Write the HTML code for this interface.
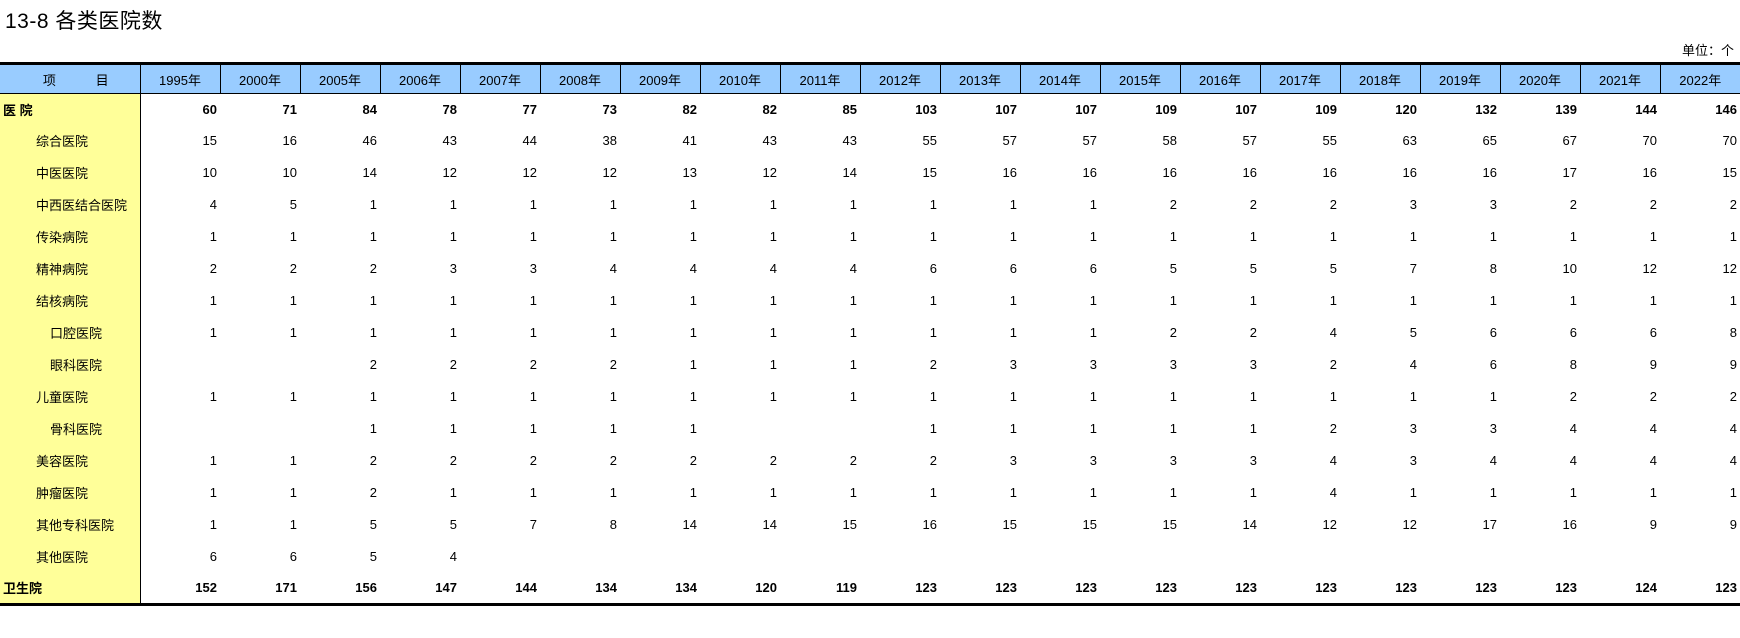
<!DOCTYPE html>
<html><head><meta charset="utf-8"><style>
body{margin:0;width:1740px;height:638px;background:#fff;font-family:"Liberation Sans","Noto Sans CJK SC",sans-serif;position:relative;overflow:hidden}
.t{position:absolute;left:5px;top:5px;font-size:21px;color:#000;letter-spacing:0.5px}
.u{position:absolute;right:6px;top:40px;font-size:13px}
table{position:absolute;left:0;top:62px;border-collapse:collapse;table-layout:fixed;width:1740px}
td{height:32px;padding:0 3px 0 0;font-size:13px;text-align:right;white-space:nowrap;overflow:hidden}
tr.h td{background:#99CCFF;border-left:1px solid #000;border-right:1px solid #000;text-align:center;height:28px;padding:0;border-top:3px solid #000;border-bottom:1px solid #000}
tr.h td.hh{padding-left:12px}
td.l{background:#FFFF99;text-align:left;border-right:1px solid #000;padding-left:36px}
td.s{padding-left:50px}
td.b0{padding-left:3px;font-weight:bold}
tr.b td{font-weight:bold}
tr.r1 td{height:30px}
tr.last td{border-bottom:3px solid #000;height:31px}
</style></head><body>
<div class="t">13-8 各类医院数</div>
<div class="u">单位：个</div>
<table>
<colgroup><col style="width:140px"><col span="20" style="width:80px"></colgroup>
<tr class="h"><td class="hh" style="border-left:none">项&nbsp;&nbsp;&nbsp;&nbsp;&nbsp;&nbsp;&nbsp;&nbsp;&nbsp;&nbsp;&nbsp;目</td><td>1995年</td><td>2000年</td><td>2005年</td><td>2006年</td><td>2007年</td><td>2008年</td><td>2009年</td><td>2010年</td><td>2011年</td><td>2012年</td><td>2013年</td><td>2014年</td><td>2015年</td><td>2016年</td><td>2017年</td><td>2018年</td><td>2019年</td><td>2020年</td><td>2021年</td><td style="border-right:none">2022年</td></tr>
<tr class="b r1"><td class="l b0">医 院</td><td>60</td><td>71</td><td>84</td><td>78</td><td>77</td><td>73</td><td>82</td><td>82</td><td>85</td><td>103</td><td>107</td><td>107</td><td>109</td><td>107</td><td>109</td><td>120</td><td>132</td><td>139</td><td>144</td><td>146</td></tr>
<tr><td class="l">综合医院</td><td>15</td><td>16</td><td>46</td><td>43</td><td>44</td><td>38</td><td>41</td><td>43</td><td>43</td><td>55</td><td>57</td><td>57</td><td>58</td><td>57</td><td>55</td><td>63</td><td>65</td><td>67</td><td>70</td><td>70</td></tr>
<tr><td class="l">中医医院</td><td>10</td><td>10</td><td>14</td><td>12</td><td>12</td><td>12</td><td>13</td><td>12</td><td>14</td><td>15</td><td>16</td><td>16</td><td>16</td><td>16</td><td>16</td><td>16</td><td>16</td><td>17</td><td>16</td><td>15</td></tr>
<tr><td class="l">中西医结合医院</td><td>4</td><td>5</td><td>1</td><td>1</td><td>1</td><td>1</td><td>1</td><td>1</td><td>1</td><td>1</td><td>1</td><td>1</td><td>2</td><td>2</td><td>2</td><td>3</td><td>3</td><td>2</td><td>2</td><td>2</td></tr>
<tr><td class="l">传染病院</td><td>1</td><td>1</td><td>1</td><td>1</td><td>1</td><td>1</td><td>1</td><td>1</td><td>1</td><td>1</td><td>1</td><td>1</td><td>1</td><td>1</td><td>1</td><td>1</td><td>1</td><td>1</td><td>1</td><td>1</td></tr>
<tr><td class="l">精神病院</td><td>2</td><td>2</td><td>2</td><td>3</td><td>3</td><td>4</td><td>4</td><td>4</td><td>4</td><td>6</td><td>6</td><td>6</td><td>5</td><td>5</td><td>5</td><td>7</td><td>8</td><td>10</td><td>12</td><td>12</td></tr>
<tr><td class="l">结核病院</td><td>1</td><td>1</td><td>1</td><td>1</td><td>1</td><td>1</td><td>1</td><td>1</td><td>1</td><td>1</td><td>1</td><td>1</td><td>1</td><td>1</td><td>1</td><td>1</td><td>1</td><td>1</td><td>1</td><td>1</td></tr>
<tr><td class="l s">口腔医院</td><td>1</td><td>1</td><td>1</td><td>1</td><td>1</td><td>1</td><td>1</td><td>1</td><td>1</td><td>1</td><td>1</td><td>1</td><td>2</td><td>2</td><td>4</td><td>5</td><td>6</td><td>6</td><td>6</td><td>8</td></tr>
<tr><td class="l s">眼科医院</td><td></td><td></td><td>2</td><td>2</td><td>2</td><td>2</td><td>1</td><td>1</td><td>1</td><td>2</td><td>3</td><td>3</td><td>3</td><td>3</td><td>2</td><td>4</td><td>6</td><td>8</td><td>9</td><td>9</td></tr>
<tr><td class="l">儿童医院</td><td>1</td><td>1</td><td>1</td><td>1</td><td>1</td><td>1</td><td>1</td><td>1</td><td>1</td><td>1</td><td>1</td><td>1</td><td>1</td><td>1</td><td>1</td><td>1</td><td>1</td><td>2</td><td>2</td><td>2</td></tr>
<tr><td class="l s">骨科医院</td><td></td><td></td><td>1</td><td>1</td><td>1</td><td>1</td><td>1</td><td></td><td></td><td>1</td><td>1</td><td>1</td><td>1</td><td>1</td><td>2</td><td>3</td><td>3</td><td>4</td><td>4</td><td>4</td></tr>
<tr><td class="l">美容医院</td><td>1</td><td>1</td><td>2</td><td>2</td><td>2</td><td>2</td><td>2</td><td>2</td><td>2</td><td>2</td><td>3</td><td>3</td><td>3</td><td>3</td><td>4</td><td>3</td><td>4</td><td>4</td><td>4</td><td>4</td></tr>
<tr><td class="l">肿瘤医院</td><td>1</td><td>1</td><td>2</td><td>1</td><td>1</td><td>1</td><td>1</td><td>1</td><td>1</td><td>1</td><td>1</td><td>1</td><td>1</td><td>1</td><td>4</td><td>1</td><td>1</td><td>1</td><td>1</td><td>1</td></tr>
<tr><td class="l">其他专科医院</td><td>1</td><td>1</td><td>5</td><td>5</td><td>7</td><td>8</td><td>14</td><td>14</td><td>15</td><td>16</td><td>15</td><td>15</td><td>15</td><td>14</td><td>12</td><td>12</td><td>17</td><td>16</td><td>9</td><td>9</td></tr>
<tr><td class="l">其他医院</td><td>6</td><td>6</td><td>5</td><td>4</td><td></td><td></td><td></td><td></td><td></td><td></td><td></td><td></td><td></td><td></td><td></td><td></td><td></td><td></td><td></td><td></td></tr>
<tr class="b last"><td class="l b0">卫生院</td><td>152</td><td>171</td><td>156</td><td>147</td><td>144</td><td>134</td><td>134</td><td>120</td><td>119</td><td>123</td><td>123</td><td>123</td><td>123</td><td>123</td><td>123</td><td>123</td><td>123</td><td>123</td><td>124</td><td>123</td></tr>
</table>
</body></html>
